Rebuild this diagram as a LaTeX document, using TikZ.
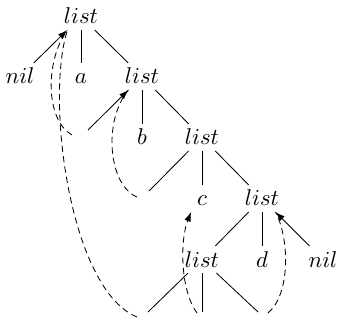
\documentclass[tikz,border=0pt]{standalone}
\usetikzlibrary{arrows.meta,calc}
\begin{document}
\begin{tikzpicture}[x=0.48pt,y=-0.48pt,
  tn/.style={anchor=base,inner sep=2.7pt,text height=7.2pt,text depth=0pt,font=\fontsize{10.5}{12}\selectfont},
  ptr/.style={-{Latex[length=4.5pt,width=3.2pt]}},
  back/.style={dash pattern=on 3pt off 2pt,line width=0.4pt}]
\useasboundingbox (0,0) rectangle (337,320);
% nodes
\node[tn] (l1) at (81,24) {$list$};
\node[tn] (nil1) at (20,84) {$nil$};
\node[tn] (a) at (81,84) {$a$};
\node[tn] (l2) at (142,84) {$list$};
\coordinate (e2) at (88,130);
\node[tn] (b) at (142,145) {$b$};
\node[tn] (l3) at (202,145) {$list$};
\coordinate (e3) at (149,191);
\node[tn] (c) at (202,206) {$c$};
\node[tn] (l4) at (262,206) {$list$};
\node[tn] (l5) at (202,267) {$list$};
\node[tn] (d) at (262,267) {$d$};
\node[tn] (nil2) at (323,267) {$nil$};
\coordinate (f1) at (148,312);
\coordinate (f2) at (202,312);
\coordinate (f3) at (258,312);
% dashed back pointers
\draw[back] ($(e2)+(-16,5)$) .. controls (45,120) and (45,60) .. (l1.-135);
\draw[back] ($(f1)+(-11,5)$) .. controls (70,290) and (45,100) .. (l1.-135);
\draw[back] ($(e3)+(-12,6)$) .. controls (108,185) and (103,120) .. (l2.-135);
\draw[back,ptr] ($(f2)+(-5,1)$) .. controls (180,290) and (180,240) .. (c.south west);
\draw[back] ($(f3)+(10,1)$) .. controls (290,295) and (290,240) .. (l4.-45);
% tree edges
\draw[ptr] (nil1) -- (l1);
\draw (l1) -- (a);
\draw (l1) -- (l2);
\draw[ptr] (e2) -- (l2);
\draw (l2) -- (b);
\draw (l2) -- (l3);
\draw (l3) -- (e3);
\draw (l3) -- (c);
\draw (l3) -- (l4);
\draw (l4) -- (l5);
\draw (l4) -- (d);
\draw[ptr] (nil2) -- (l4);
\draw (l5) -- (f1);
\draw (l5) -- (f2);
\draw (l5) -- (f3);
\end{tikzpicture}
\end{document}
